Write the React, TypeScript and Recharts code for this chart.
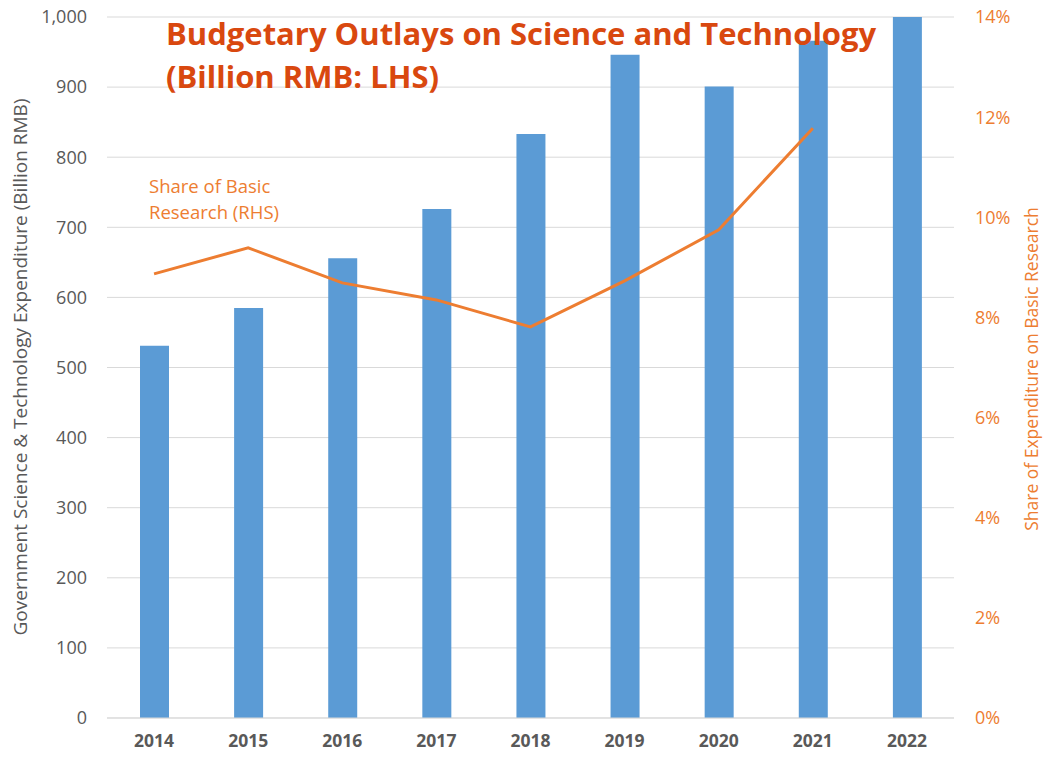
import { Bar, CartesianGrid, ComposedChart, Line, XAxis, YAxis } from "recharts";

const years = ["2014", "2015", "2016", "2017", "2018", "2019", "2020", "2021", "2022"];
const outlays = [531, 585, 656, 726, 833, 946, 901, 966, 1000];
const basicShare = [8.87, 9.39, 8.69, 8.35, 7.81, 8.73, 9.75, 11.78, null];
const leftTicks = [0, 100, 200, 300, 400, 500, 600, 700, 800, 900, 1000];
const rightTicks = [0, 2, 4, 6, 8, 10, 12, 14];

const data = years.map((y, i) => ({ year: y, outlay: outlays[i], share: basicShare[i] }));

const FONT = "'Open Sans', 'Noto Sans', sans-serif";
const GRAY = "#595959";
const ORANGE = "#ED7D31";

export default function App() {
  return (
    <div style={{ position: "absolute", left: 0, top: 0, width: 1044, height: 758, fontFamily: FONT, background: "#fff" }}>
      <ComposedChart
        width={1044}
        height={758}
        data={data}
        margin={{ top: 17, right: 0, left: 0, bottom: 0 }}
        barCategoryGap={0}
      >
        <CartesianGrid vertical={false} stroke="#D9D9D9" yAxisId="left" />
        <XAxis
          dataKey="year"
          height={40}
          axisLine={{ stroke: "#D9D9D9" }}
          tickLine={false}
          tick={{ fill: GRAY, fontSize: 17.5, fontWeight: 700, fontFamily: FONT }}
          tickMargin={11}
        />
        <YAxis
          yAxisId="left"
          width={107}
          domain={[0, 1000]}
          ticks={leftTicks}
          allowDataOverflow
          axisLine={false}
          tickLine={false}
          tickFormatter={(v: number) => v.toLocaleString("en-US")}
          tick={{ fill: GRAY, fontSize: 18, fontFamily: FONT }}
          tickMargin={14}
        />
        <YAxis
          yAxisId="right"
          orientation="right"
          width={90}
          domain={[0, 14]}
          ticks={rightTicks}
          axisLine={false}
          tickLine={false}
          tickFormatter={(v: number) => `${v}%`}
          tick={{ fill: ORANGE, fontSize: 18, fontFamily: FONT, textAnchor: "start" }}
          tickMargin={15}
        />
        <Bar yAxisId="left" dataKey="outlay" fill="#5B9BD5" barSize={29} isAnimationActive={false} />
        <Line
          yAxisId="right"
          dataKey="share"
          stroke={ORANGE}
          strokeWidth={3}
          dot={false}
          type="linear"
          isAnimationActive={false}
        />
      </ComposedChart>

      <div
        style={{
          position: "absolute",
          left: 166,
          top: 12,
          color: "#D9480F",
          fontSize: 31,
          fontWeight: 700,
          lineHeight: "43px",
          whiteSpace: "nowrap",
        }}
      >
        Budgetary Outlays on Science and Technology
        <br />
        (Billion RMB: LHS)
      </div>

      <div
        style={{
          position: "absolute",
          left: 149,
          top: 173,
          color: ORANGE,
          fontSize: 18.5,
          lineHeight: "26px",
        }}
      >
        Share of Basic
        <br />
        Research (RHS)
      </div>

      <div
        style={{
          position: "absolute",
          left: 20,
          top: 367,
          transform: "translate(-50%, -50%) rotate(-90deg)",
          color: GRAY,
          fontSize: 19,
          lineHeight: "22px",
          whiteSpace: "nowrap",
        }}
      >
        Government Science &amp; Technology Expenditure (Billion RMB)
      </div>

      <div
        style={{
          position: "absolute",
          left: 1031,
          top: 369,
          transform: "translate(-50%, -50%) rotate(-90deg)",
          color: ORANGE,
          fontSize: 17.5,
          lineHeight: "20px",
          whiteSpace: "nowrap",
        }}
      >
        Share of Expenditure on Basic Research
      </div>
    </div>
  );
}
